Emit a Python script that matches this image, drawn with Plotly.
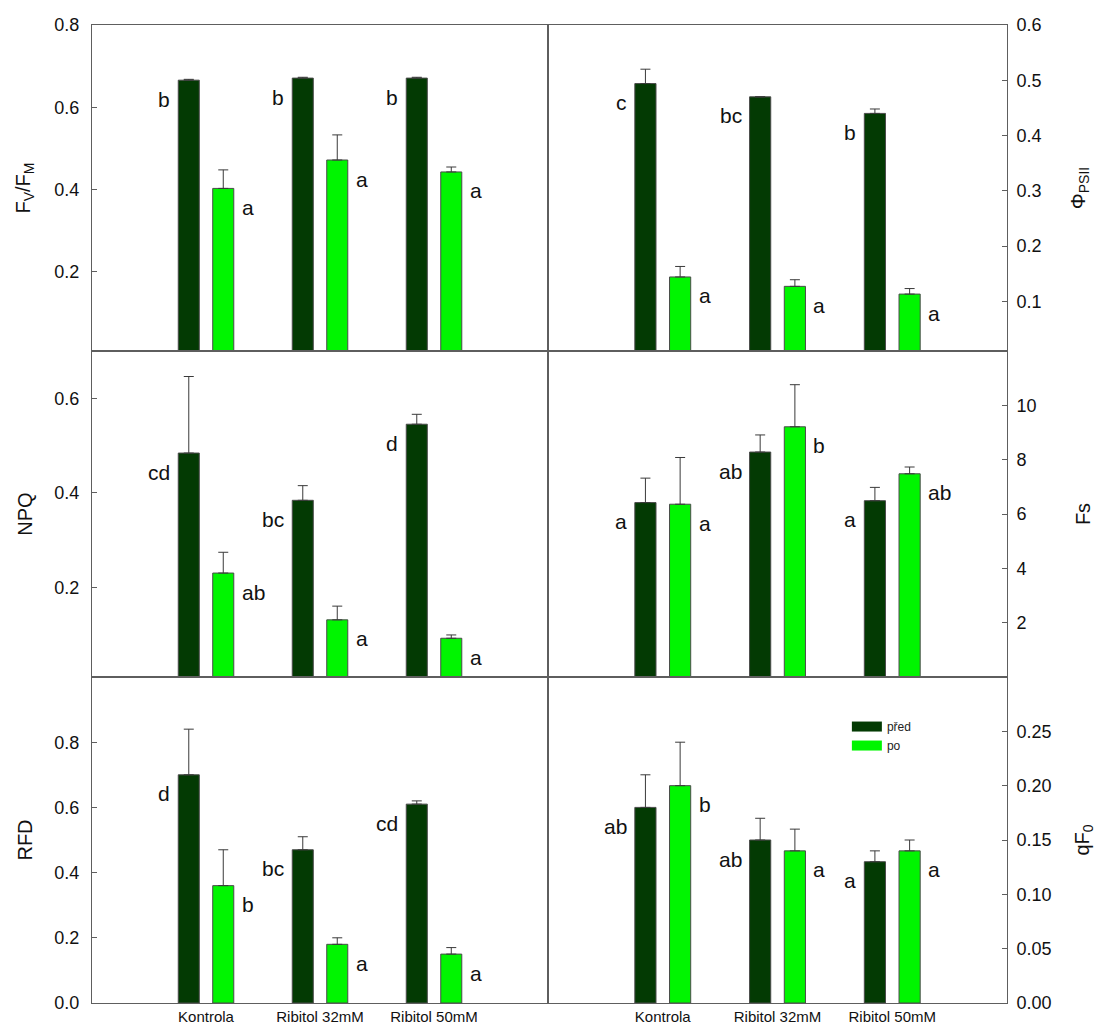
import plotly.graph_objects as go

# Treatments and the two measurement times
categories = ["Kontrola", "Ribitol 32mM", "Ribitol 50mM"]
series_names = ["před", "po"]

# Fv/Fm
fvfm_pred = [0.666, 0.671, 0.671]
fvfm_pred_err = [0.002, 0.002, 0.002]
fvfm_po = [0.403, 0.472, 0.443]
fvfm_po_err = [0.045, 0.061, 0.012]
fvfm_pred_lbl = ["b", "b", "b"]
fvfm_po_lbl = ["a", "a", "a"]

# PhiPSII
phi_pred = [0.494, 0.470, 0.440]
phi_pred_err = [0.026, 0.0, 0.008]
phi_po = [0.144, 0.127, 0.113]
phi_po_err = [0.019, 0.012, 0.010]
phi_pred_lbl = ["c", "bc", "b"]
phi_po_lbl = ["a", "a", "a"]

# NPQ
npq_pred = [0.484, 0.384, 0.545]
npq_pred_err = [0.162, 0.031, 0.021]
npq_po = [0.230, 0.131, 0.092]
npq_po_err = [0.044, 0.029, 0.007]
npq_pred_lbl = ["cd", "bc", "d"]
npq_po_lbl = ["ab", "a", "a"]

# Fs
fs_pred = [6.42, 8.28, 6.49]
fs_pred_err = [0.90, 0.63, 0.49]
fs_po = [6.36, 9.21, 7.48]
fs_po_err = [1.72, 1.55, 0.25]
fs_pred_lbl = ["a", "ab", "a"]
fs_po_lbl = ["a", "b", "ab"]

# RFD
rfd_pred = [0.70, 0.47, 0.61]
rfd_pred_err = [0.14, 0.04, 0.01]
rfd_po = [0.36, 0.18, 0.15]
rfd_po_err = [0.11, 0.02, 0.02]
rfd_pred_lbl = ["d", "bc", "cd"]
rfd_po_lbl = ["b", "a", "a"]

# qF0
qf0_pred = [0.18, 0.15, 0.13]
qf0_pred_err = [0.03, 0.02, 0.01]
qf0_po = [0.20, 0.14, 0.14]
qf0_po_err = [0.04, 0.02, 0.01]
qf0_pred_lbl = ["ab", "ab", "a"]
qf0_po_lbl = ["b", "a", "a"]

DARK = "#033a03"
LIGHT = "#00f500"
EDGE = "#4a4a4a"
AXIS = "#5e5e5e"
FONT = "Liberation Sans, Arial, sans-serif"

# panel: (axis suffix, column, row, data..., y-axis settings, title standoff)
panels = [
    ("", 0, 0, fvfm_pred, fvfm_pred_err, fvfm_po, fvfm_po_err, fvfm_pred_lbl, fvfm_po_lbl,
     "F<sub>V</sub>/F<sub>M</sub>", [0.008, 0.8], [0.2, 0.4, 0.6, 0.8], ".1f", 18),
    ("2", 1, 0, phi_pred, phi_pred_err, phi_po, phi_po_err, phi_pred_lbl, phi_po_lbl,
     "Φ<sub>PSII</sub>", [0.01, 0.6], [0.1, 0.2, 0.3, 0.4, 0.5, 0.6], ".1f", 30),
    ("3", 0, 1, npq_pred, npq_pred_err, npq_po, npq_po_err, npq_pred_lbl, npq_po_lbl,
     "NPQ", [0.01, 0.7], [0.2, 0.4, 0.6], ".1f", 16),
    ("4", 1, 1, fs_pred, fs_pred_err, fs_po, fs_po_err, fs_pred_lbl, fs_po_lbl,
     "Fs", [0.0, 12.0], [2, 4, 6, 8, 10], "d", 40),
    ("5", 0, 2, rfd_pred, rfd_pred_err, rfd_po, rfd_po_err, rfd_pred_lbl, rfd_po_lbl,
     "RFD", [0.0, 1.0], [0.0, 0.2, 0.4, 0.6, 0.8], ".1f", 16),
    ("6", 1, 2, qf0_pred, qf0_pred_err, qf0_po, qf0_po_err, qf0_pred_lbl, qf0_po_lbl,
     "qF<sub>0</sub>", [0.0, 0.30], [0.0, 0.05, 0.10, 0.15, 0.20, 0.25], ".2f", 30),
]

xpos = list(range(len(categories)))
col_dom = [[0.0, 0.4984], [0.4984, 1.0]]
row_dom = [[2 / 3, 1.0], [1 / 3, 2 / 3], [0.0, 1 / 3]]

BARGAP = 0.395
GROUPGAP = 0.39
slot = (1 - BARGAP) / 2
half_w = slot * (1 - GROUPGAP) / 2
center_off = slot / 2
edge_off = center_off + half_w

fig = go.Figure()
annotations = []
layout_axes = {}

for (sfx, col, row, pv, pe, qv, qe, plbl, qlbl, title, yr, tv, fmt, stand) in panels:
    xa = "x" + sfx
    ya = "y" + sfx
    for name, vals, errs, color in ((series_names[0], pv, pe, DARK),
                                    (series_names[1], qv, qe, LIGHT)):
        fig.add_trace(go.Bar(
            x=xpos, y=vals, name=name, xaxis=xa, yaxis=ya, showlegend=False,
            marker=dict(color=color, line=dict(color=EDGE, width=1)),
            error_y=dict(type="data", array=errs, arrayminus=[0] * len(errs),
                         symmetric=False, color="#3a3a3a", thickness=1, width=5),
        ))
    for i in xpos:
        annotations.append(dict(
            x=i - edge_off, y=pv[i], xref=xa, yref=ya, text=plbl[i],
            showarrow=False, xanchor="right", yanchor="middle",
            xshift=-6, yshift=-19, font=dict(size=21, color="#111", family=FONT)))
        annotations.append(dict(
            x=i + edge_off, y=qv[i], xref=xa, yref=ya, text=qlbl[i],
            showarrow=False, xanchor="left", yanchor="middle",
            xshift=6, yshift=-19, font=dict(size=21, color="#111", family=FONT)))

    key_x = "xaxis" + sfx
    key_y = "yaxis" + sfx
    xa_cfg = dict(
        domain=col_dom[col], anchor=ya, range=[-1, 3], automargin=False,
        showline=True, linecolor=AXIS, linewidth=1, mirror=True,
        showgrid=False, zeroline=False, ticks="",
    )
    if row == 2:
        xa_cfg.update(tickvals=xpos, ticktext=categories, showticklabels=True,
                      tickfont=dict(size=15, color="#111", family=FONT))
    else:
        xa_cfg.update(showticklabels=False)
    layout_axes[key_x] = xa_cfg
    layout_axes[key_y] = dict(
        domain=row_dom[row], anchor=xa, range=yr, automargin=False,
        side="left" if col == 0 else "right",
        showline=True, linecolor=AXIS, linewidth=1, mirror=True,
        showgrid=False, zeroline=False,
        ticks="inside", ticklen=5, tickcolor=AXIS,
        tickvals=tv, tickformat=fmt, ticklabelstandoff=8 if col == 0 else 5,
        tickfont=dict(size=18, color="#111", family=FONT),
        title=dict(text=title, font=dict(size=20, color="#111", family=FONT),
                   standoff=stand),
    )

# legend entries drawn as wide swatches
for name, color in ((series_names[0], DARK), (series_names[1], LIGHT)):
    fig.add_trace(go.Scatter(
        x=[None], y=[None], xaxis="x6", yaxis="y6", mode="lines", name=name,
        line=dict(color=color, width=10), showlegend=True,
    ))

fig.update_layout(
    width=1096, height=1027,
    margin=dict(l=92, r=89, t=25, b=24, autoexpand=False),
    paper_bgcolor="white", plot_bgcolor="white",
    barmode="group", bargap=BARGAP, bargroupgap=GROUPGAP,
    annotations=annotations,
    legend=dict(x=0.825, y=0.2975, xanchor="left", yanchor="top",
                bgcolor="rgba(0,0,0,0)", font=dict(size=12, color="#222", family=FONT),
                tracegroupgap=0),
    font=dict(family=FONT),
    **layout_axes,
)

fig.write_html("out.html")
